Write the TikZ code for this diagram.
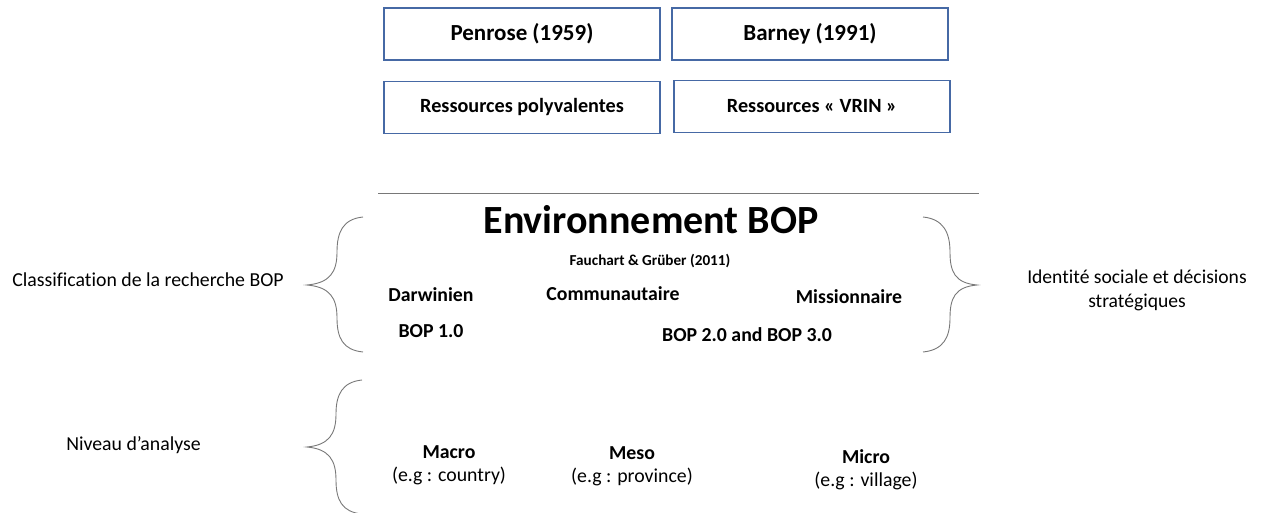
\documentclass[tikz,border=0pt]{standalone}
\usepackage{fontspec}
\setmainfont{Carlito}[Ligatures=NoCommon]
\begin{document}
\begin{tikzpicture}[x=1pt,y=-1pt,
  box/.style={draw=boxblue,line width=1.2pt,minimum width=276pt,minimum height=52pt,inner sep=0pt},
  lbl/.style={inner sep=0pt,font=\fontsize{19.8}{24}\selectfont},
  blbl/.style={inner sep=0pt,font=\fontsize{19.8}{24}\selectfont\bfseries},
  brace/.style={draw=bracegray,line width=0.9pt},
]
\definecolor{boxblue}{RGB}{70,105,165}
\definecolor{bracegray}{RGB}{120,120,120}
\useasboundingbox (0,0) rectangle (1264,513);
% top boxes
\node[box,font=\fontsize{23}{28}\selectfont\bfseries] (penrose) at (522,34) {Penrose (1959)};
\node[box,font=\fontsize{23}{28}\selectfont\bfseries] (barney) at (810,34) {Barney (1991)};
\node[box,font=\fontsize{20.2}{24}\selectfont\bfseries] (poly) at (522,107.5) {Ressources polyvalentes};
\node[box,font=\fontsize{20.2}{24}\selectfont\bfseries] (vrin) at (812,106.5) {Ressources « VRIN »};
% separator
\coordinate (sepL) at (378,193);
\coordinate (sepR) at (979,193);
\draw[draw=bracegray,line width=0.9pt] (sepL) -- (sepR);
% central block
\node[inner sep=0pt,font=\fontsize{40}{48}\selectfont\bfseries] (env) at (651,220) {Environnement BOP};
\node[inner sep=0pt,font=\fontsize{15.2}{18}\selectfont\bfseries] (fauch) at (650,261) {Fauchart \& Grüber (2011)};
\node[blbl] (darw) at (431,295) {Darwinien};
\node[blbl] (comm) at (613,294) {Communautaire};
\node[blbl] (miss) at (849,297) {Missionnaire};
\node[blbl] (bop1) at (431,331) {BOP 1.0};
\node[blbl] (bop23) at (747,335) {BOP 2.0 and BOP 3.0};
% side labels
\node[lbl] (classif) at (148,280) {Classification de la recherche BOP};
\node[lbl,align=center,font=\fontsize{19.6}{24}\selectfont] (ident) at (1137,290) {Identité sociale et décisions\\stratégiques};
\node[lbl] (niveau) at (133.5,445) {Niveau d’analyse};
% levels
\node[blbl] (macro) at (449,452) {Macro};
\node[lbl] (macroeg) at (449,476) {(e.g : country)};
\node[blbl] (meso) at (632,453) {Meso};
\node[lbl] (mesoeg) at (632,477) {(e.g : province)};
\node[blbl] (micro) at (866,457) {Micro};
\node[lbl] (microeg) at (866,481) {(e.g : village)};
% braces
\draw[brace] (363,217) .. controls (343,219) and (337,232) .. (337,252)
  .. controls (337,272) and (330,283) .. (307,285)
  .. controls (330,287) and (337,298) .. (337,318)
  .. controls (337,338) and (343,350) .. (363,352);
\draw[brace] (362,380) .. controls (342,382) and (336,395) .. (336,414)
  .. controls (336,434) and (329,445) .. (307,447)
  .. controls (329,449) and (336,460) .. (336,480)
  .. controls (336,500) and (342,512) .. (362,514);
\draw[brace] (923,217) .. controls (943,219) and (950,232) .. (950,252)
  .. controls (950,272) and (955,283) .. (977,285)
  .. controls (955,287) and (950,298) .. (950,318)
  .. controls (950,338) and (943,350) .. (923,352);
\end{tikzpicture}
\end{document}
